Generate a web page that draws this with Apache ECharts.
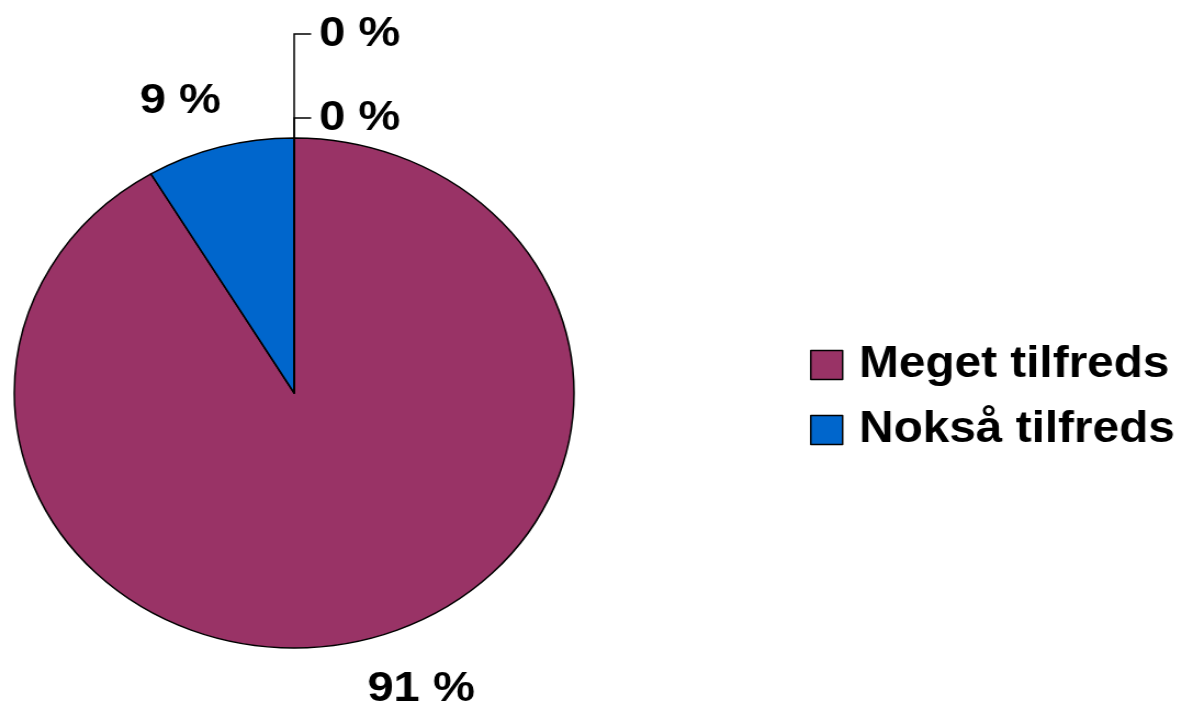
<!DOCTYPE html>
<html><head><meta charset="utf-8">
<script src="https://cdn.jsdelivr.net/npm/echarts@6/dist/echarts.min.js"></script>
<style>
html,body{margin:0;padding:0;background:#fff;overflow:hidden}
#wrap{width:1182px;height:704px;position:relative;overflow:hidden;background:#fff}
#chart{position:absolute;left:0;top:0;width:1077px;height:704px;transform:scaleX(1.0975);transform-origin:0 0}
</style></head>
<body><div id="wrap"><div id="chart"></div></div>
<script>
// ---- data ----
const categories = ['Meget tilfreds', 'Nokså tilfreds', 'Lite tilfreds', 'Ikke tilfreds'];
const values = [91.45, 8.55, 0, 0];
const legendItems = ['Meget tilfreds', 'Nokså tilfreds'];
const colors = ['#993366', '#0066CC', '#FFFFCC', '#CCFFFF'];

// ---- layout (style only) ----
const CX = 268, CY = 393, R = 255;
const ZERO_RISE = [20, 104];
const TICK = 15.5, TEXT_GAP = 22.7;
const FONT = "'Liberation Sans', Arial, Helvetica, sans-serif";

const total = values.reduce((a, b) => a + b, 0);
const starts = [];
values.reduce((acc, v, i) => { starts[i] = acc; return acc + v; }, 0);
const zeroOrder = {};
values.forEach((v, i) => { if (v === 0) zeroOrder[i] = Object.keys(zeroOrder).length; });

const chart = echarts.init(document.getElementById('chart'), null, { renderer: 'canvas' });
chart.setOption({
  animation: false,
  backgroundColor: '#fff',
  color: colors,
  legend: {
    data: legendItems,
    orient: 'vertical',
    left: 738,
    top: 343,
    padding: 0,
    itemWidth: 29,
    itemHeight: 29,
    itemGap: 21,
    icon: 'rect',
    selectedMode: false,
    itemStyle: { borderColor: '#000', borderWidth: 1.5 },
    textStyle: { fontSize: 43.5, fontWeight: 'bold', fontFamily: FONT, color: '#000', lineHeight: 44, padding: [0, 0, 0, 10] }
  },
  series: [{
    type: 'pie',
    center: [CX, CY],
    radius: R,
    startAngle: 90,
    clockwise: true,
    avoidLabelOverlap: false,
    silent: true,
    itemStyle: { borderColor: '#000', borderWidth: 1.5 },
    emphasis: { disabled: true },
    label: {
      show: true,
      position: 'outside',
      formatter: p => Math.round(p.value) + ' %',
      fontSize: 43,
      fontWeight: 'bold',
      fontFamily: FONT,
      color: '#000'
    },
    labelLine: { show: false, lineStyle: { color: '#000', width: 1.5 } },
    labelLayout: function (p) {
      const i = p.dataIndex;
      const topY = CY - R;
      if (values[i] === 0) {
        const y = topY - ZERO_RISE[zeroOrder[i]];
        return {
          x: CX + TEXT_GAP, y: y, align: 'left', verticalAlign: 'middle',
          labelLinePoints: [[CX, topY], [CX, y], [CX + TICK, y]]
        };
      }
      const mid = (90 - (starts[i] + values[i] / 2) / total * 360) * Math.PI / 180;
      const px = CX + R * Math.cos(mid), py = CY - R * Math.sin(mid);
      const right = Math.cos(mid) >= 0, down = Math.sin(mid) < 0;
      return {
        x: px + (right ? -1 : 1),
        y: py + (down ? 50 : -46),
        align: right ? 'left' : 'right',
        verticalAlign: 'middle'
      };
    },
    data: categories.map((c, i) => ({
      name: c,
      value: values[i],
      labelLine: { show: values[i] === 0, lineStyle: { color: '#000', width: 1.5 } }
    }))
  }]
});
</script>
</body></html>
